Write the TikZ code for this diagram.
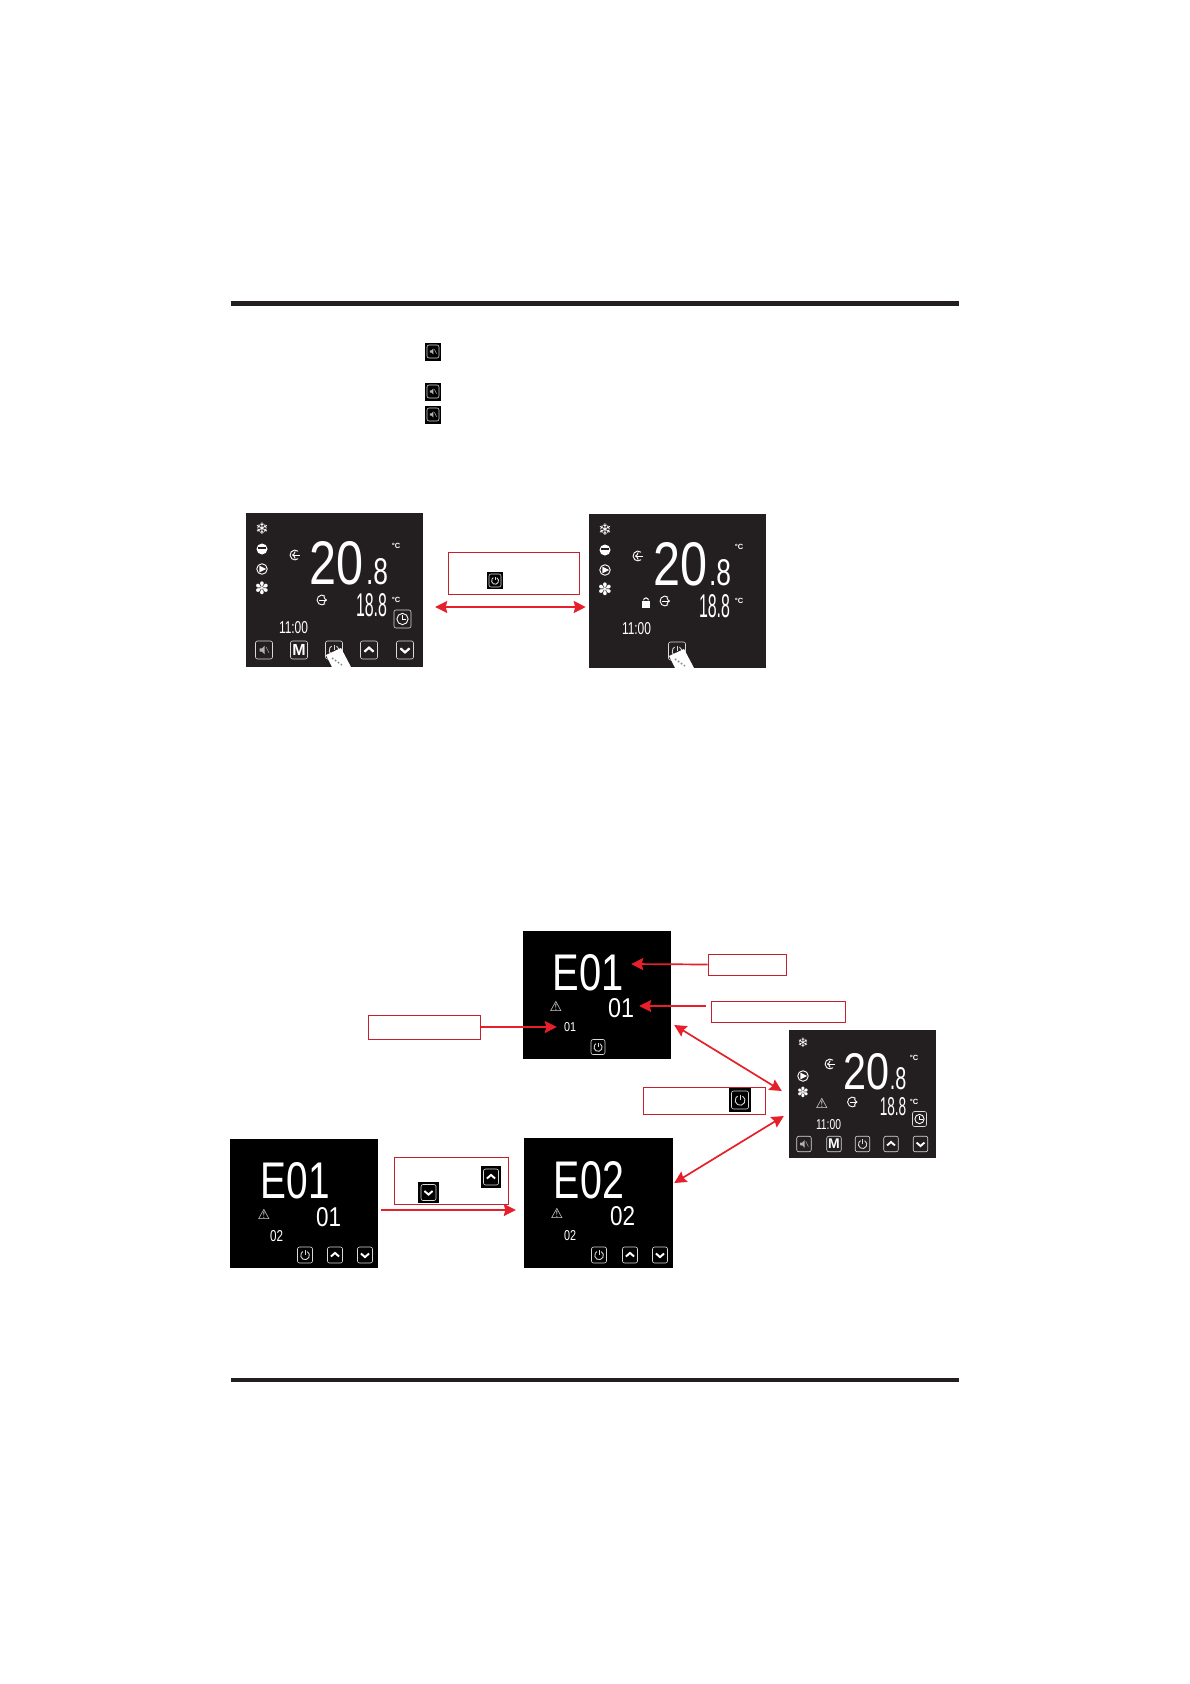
\documentclass[tikz,border=0pt]{standalone}
\usepackage{fontspec}
\usepackage{graphicx}
\setsansfont{Liberation Sans}
\newfontfamily\symfont{DejaVu Sans}
\usetikzlibrary{arrows.meta,positioning}
\definecolor{panelgrey}{HTML}{231F20}
\definecolor{arrowred}{HTML}{E5202A}
\definecolor{boxred}{HTML}{C4202E}
\tikzset{
  rulebar/.style = {rectangle, fill=panelgrey, inner sep=0pt},
  panel/.style   = {rectangle, fill=panelgrey, inner sep=0pt},
  fault/.style   = {rectangle, fill=black, inner sep=0pt},
  capbg/.style   = {rectangle, fill=black, inner sep=0pt},
  redbox/.style  = {rectangle, draw=boxred, line width=.8pt, inner sep=0pt},
  btn/.style     = {rectangle, rounded corners=2pt, draw=white!85!black, line width=.6pt,
                    text=white, inner sep=0pt},
  lcdtext/.style = {text=white, inner sep=0pt, font=\sffamily},
  glyph/.style   = {text=white, inner sep=0pt},
  unitc/.style   = {text=white, inner sep=0pt, font=\sffamily\bfseries\fontsize{7.5}{7.5}\selectfont},
  fl/.style      = {-{Stealth[length=12pt,width=12pt,inset=1.5pt]}, line width=1.7pt, arrowred},
  flb/.style     = {{Stealth[length=12pt,width=12pt,inset=1.5pt]}-{Stealth[length=12pt,width=12pt,inset=1.5pt]},
                    line width=1.7pt, arrowred},
  ico/.style     = {white, line width=.9pt},
}
% #1 name, #2 x, #3 y, #4 width, #5 height, #6 text
\newcommand{\lcd}[6]{\node[lcdtext] (#1) at (#2,#3) {\resizebox{#4pt}{#5pt}{#6}};}
\newcommand{\symb}[5]{\node[glyph, font=\symfont\fontsize{#4}{#4}\selectfont] (#1) at (#2,#3) {#5};}
\newcommand{\keyup}[4]{\node[btn, minimum width=#4, minimum height=#4+1] (#1) at (#2,#3) {};
  \draw[ico, line width=.13*#4] ([xshift=-.27*#4,yshift=-.1*#4]#1.center) -- ([yshift=.14*#4]#1.center) -- ([xshift=.27*#4,yshift=-.1*#4]#1.center);}
\newcommand{\keydown}[4]{\node[btn, minimum width=#4, minimum height=#4+1] (#1) at (#2,#3) {};
  \draw[ico, line width=.13*#4] ([xshift=-.27*#4,yshift=.1*#4]#1.center) -- ([yshift=-.14*#4]#1.center) -- ([xshift=.27*#4,yshift=.1*#4]#1.center);}
\newcommand{\keypow}[4]{\node[btn, minimum width=#4, minimum height=#4+1] (#1) at (#2,#3) {};
  \draw[ico, white!85!black] ([xshift=.15*#4,yshift=.23*#4]#1.center) arc[start angle=60, end angle=-240, radius=.29*#4pt];
  \draw[ico, white!85!black] ([yshift=.32*#4]#1.center) -- ([yshift=.02*#4]#1.center);}
\newcommand{\keysnd}[4]{\node[btn, minimum width=#4, minimum height=#4+1] (#1) at (#2,#3) {};
  \fill[white!70!black] ([xshift=-.26*#4,yshift=-.1*#4]#1.center) -- ++(0,.2*#4 pt) -- ++(.14*#4 pt,0) -- ++(.16*#4 pt,.16*#4 pt) -- ++(0,-.52*#4 pt) -- ++(-.16*#4 pt,.16*#4 pt) -- cycle;
  \draw[white!70!black, line width=.5pt] ([xshift=.12*#4,yshift=.18*#4]#1.center) -- ([xshift=.3*#4,yshift=-.18*#4]#1.center);}
\newcommand{\keyclk}[4]{\node[btn, minimum width=#4, minimum height=#4+1] (#1) at (#2,#3) {};
  \draw[ico] (#1.center) circle[radius=.33*#4pt];
  \draw[ico] ([yshift=.22*#4]#1.center) -- (#1.center) -- ([xshift=.22*#4]#1.center);}
\newcommand{\flow}[4]{\node[inner sep=3pt] (#1) at (#2,#3) {};
  \draw[ico] ([xshift=3.1,yshift=3.8]#1.center) arc[start angle=50, end angle=310, radius=4.9pt];
  \draw[ico, #4] ([xshift=-3]#1.center) -- ([xshift=5]#1.center);}
\newcommand{\warn}[3]{\node[glyph, font=\symfont\fontsize{14}{14}\selectfont, text=white!90!black] (#1) at (#2,#3) {⚠};}
\newcommand{\discbar}[3]{\node[circle, fill=white, minimum size=11, inner sep=0pt] (#1) at (#2,#3) {};
  \fill[panelgrey] ([xshift=-4,yshift=.4]#1.center) rectangle ([xshift=4,yshift=1.6]#1.center);}
\newcommand{\discplay}[3]{\node[circle, draw=white, line width=.9pt, minimum size=10.5, inner sep=0pt] (#1) at (#2,#3) {};
  \fill[white] ([xshift=-2.6,yshift=3.4]#1.center) -- ([xshift=4.2]#1.center) -- ([xshift=-2.6,yshift=-3.4]#1.center) -- cycle;}
% the part that both upper screens share
\newcommand{\homescreen}{
  \symb{snow}{262}{529}{16}{❄}
  \discbar{bar}{262}{549}
  \discplay{play}{262}{569}
  \symb{fan}{262}{588}{17}{✽}
  \flow{flowa}{295}{555}{<-}
  \flow{flowb}{322}{600}{->}
  \lcd{big}{337}{563.5}{54}{43}{20}
  \lcd{dec}{377}{572}{22}{26}{.8}
  \node[unitc] (unita) at (396,546) {°C};
  \lcd{small}{371.5}{605.5}{31}{23}{18.8}
  \node[unitc] (unitb) at (396,600) {°C};
  \lcd{time}{293.5}{628}{29}{12}{11:00}
  \keypow{power}{334}{650}{17}
  \fill[white] (326,655) -- (341,648) -- (351,667) -- (332,667) -- cycle;
  \draw[black!45, line width=1.6pt, dotted] (332,658) -- (342,665);
}
\begin{document}
\begin{tikzpicture}[x=1pt,y=-1pt]
  \useasboundingbox (0,0) rectangle (1190,1684);

  \node[rulebar, minimum width=728, minimum height=4.5] (toprule) at (595,303.5) {};
  \node[rulebar, minimum width=728, minimum height=4.5] (botrule) at (595,1380) {};

  % speaker keys in the text
  \node[capbg, minimum width=16, minimum height=18] (capa) at (433,351.5) {};
  \keysnd{sounda}{433}{351.5}{12}
  \node[capbg, minimum width=16, minimum height=18] (capb) at (433,391.5) {};
  \keysnd{soundb}{433}{391.5}{12}
  \node[capbg, minimum width=16, minimum height=18] (capc) at (433,414.5) {};
  \keysnd{soundc}{433}{414.5}{12}

  % unlocked and locked screens
  \node[panel, minimum width=177, minimum height=154] (unlocked) at (334,590) {};
  \node[panel, minimum width=177, minimum height=154] (locked) at (677,591) {};
  \begin{scope}[name prefix=u-]
    \homescreen
    \keyclk{clock}{402.5}{619}{17}
    \keysnd{sound}{264}{650}{17}
    \node[btn, minimum width=17, minimum height=18, font=\sffamily\bfseries\fontsize{16}{16}\selectfont] (mode) at (299,650) {M};
    \keyup{up}{369}{650}{17}
    \keydown{down}{405}{650}{17}
  \end{scope}
  \begin{scope}[shift={(343,1)}, name prefix=l-]
    \homescreen
    \node[rectangle, fill=white, minimum width=8, minimum height=7, inner sep=0pt] (lock) at (303,603) {};
    \draw[ico, line width=1pt] ([xshift=-2.4]lock.north) arc[start angle=180, end angle=0, radius=2.4pt];
  \end{scope}

  \node[redbox, minimum width=131, minimum height=42] (holdbox) at (513.5,573) {};
  \node[capbg, minimum width=16, minimum height=17] (capd) at (495,580.5) {};
  \keypow{holdkey}{495}{580.5}{12}
  \draw[flb] ([shift={(12.5,17)}]unlocked.east) -- ([shift={(-2.6,16)}]locked.west);

  % fault screens
  \node[fault, minimum width=148, minimum height=128] (faulta) at (597,995) {};
  \lcd{codea}{588.5}{973}{71}{36}{E01}
  \warn{warna}{556}{1006}
  \lcd{unita}{621}{1008.5}{26}{19}{01}
  \lcd{seqa}{570}{1027.5}{12}{9}{01}
  \keypow{powa}{598}{1047}{14}

  \node[redbox, minimum width=78, minimum height=21] (namebox) at (747,964.5) {};
  \node[redbox, minimum width=134, minimum height=21] (unitbox) at (778,1011.5) {};
  \node[redbox, minimum width=112.5, minimum height=24] (seqbox) at (424.3,1027) {};
  \draw[fl] (namebox.west) -- ([shift={(7,-9)}]codea.east);
  \draw[fl] ([shift={(-5,-5.5)}]unitbox.west) -- ([shift={(5,-2.5)}]unita.east);
  \draw[fl] (seqbox.east) -- ([shift={(-7,-.5)}]seqa.west);

  % running screen at the right
  \node[panel, minimum width=147, minimum height=128] (running) at (862.5,1094) {};
  \symb{rsnow}{803}{1043}{13}{❄}
  \discplay{rplay}{803}{1076}
  \symb{rfan}{803}{1092}{14}{✽}
  \warn{rwarn}{822}{1103}
  \flow{rflowa}{830}{1064}{<-}
  \flow{rflowb}{852.5}{1102}{->}
  \lcd{rbig}{866}{1072}{46}{36}{20}
  \lcd{rdec}{898}{1079}{16.5}{22}{.8}
  \node[unitc] (runita) at (914,1058) {°C};
  \lcd{rsmall}{893}{1107}{26.5}{18}{18.8}
  \node[unitc] (runitb) at (914,1102) {°C};
  \lcd{rtime}{828.5}{1125}{25}{10}{11:00}
  \keyclk{rclock}{919.5}{1119}{14}
  \keysnd{rsound}{804}{1144}{14.5}
  \node[btn, minimum width=14.5, minimum height=15.5, font=\sffamily\bfseries\fontsize{14}{14}\selectfont] (rmode) at (834,1144) {M};
  \keypow{rpow}{862.5}{1144}{14.5}
  \keyup{rup}{891}{1144}{14.5}
  \keydown{rdown}{920.5}{1144}{14.5}

  \node[redbox, minimum width=121.5, minimum height=27] (exitbox) at (704.3,1100.5) {};
  \node[capbg, minimum width=22, minimum height=24] (cape) at (740,1100) {};
  \keypow{exitkey}{740}{1100}{17}

  % lower screens
  \node[fault, minimum width=148, minimum height=129] (faultb) at (304,1203.5) {};
  \lcd{codeb}{295.5}{1181}{69}{36}{E01}
  \warn{warnb}{264}{1214}
  \lcd{unitb}{328.5}{1217.5}{25}{19}{01}
  \lcd{seqb}{276.5}{1236.5}{13}{11}{02}
  \keypow{powb}{305}{1255}{15}
  \keyup{upb}{335}{1255}{15}
  \keydown{downb}{365}{1255}{15}

  \node[fault, minimum width=149, minimum height=130] (faultc) at (598.5,1203) {};
  \lcd{codec}{589}{1180.5}{70}{37}{E02}
  \warn{warnc}{557}{1213}
  \lcd{unitc}{622.5}{1216.5}{25}{19}{02}
  \lcd{seqc}{570}{1236}{12}{10}{02}
  \keypow{powc}{599}{1255}{15}
  \keyup{upc}{630}{1255}{15}
  \keydown{downc}{660}{1255}{15}

  \node[redbox, minimum width=114, minimum height=47] (pagebox) at (451,1180.5) {};
  \node[capbg, minimum width=20, minimum height=22] (capf) at (491,1177) {};
  \keyup{pageup}{491}{1177}{15}
  \node[capbg, minimum width=21, minimum height=21] (capg) at (428.5,1192.5) {};
  \keydown{pagedown}{428.5}{1192.5}{15}
  \draw[fl] ([shift={(3,6.5)}]faultb.east) -- ([shift={(-8,7)}]faultc.west);

  \draw[flb] ([shift={(3,30)}]faulta.east) -- ([shift={(-7,-3)}]running.west);
  \draw[flb] ([shift={(-5,22)}]running.west) -- ([shift={(1,-20)}]faultc.east);
\end{tikzpicture}
\end{document}
